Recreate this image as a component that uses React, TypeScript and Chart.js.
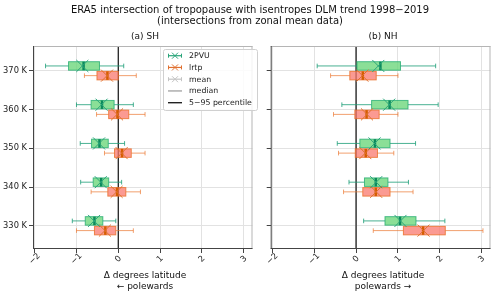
import React, { useEffect, useRef } from 'react';
import { Chart, registerables } from 'chart.js';

Chart.register(...registerables);

// ---------- data ----------
const LEVELS = [370, 360, 350, 340, 330];
const LEVEL_LABELS = ['370 K', '360 K', '350 K', '340 K', '330 K'];
const X_TICKS = [-2, -1, 0, 1, 2, 3];
const X_TICK_LABELS = ['\u22122', '\u22121', '0', '1', '2', '3'];
const SERIES_NAMES = ['2PVU', 'lrtp'];
const LEGEND_LABELS = ['2PVU', 'lrtp', 'mean', 'median', '5\u221295 percentile'];

// (a) SH, 2PVU
const SH_PVU_P5 = [-1.74, -1.0, -0.91, -0.9, -1.1];
const SH_PVU_Q1 = [-1.19, -0.65, -0.64, -0.6, -0.79];
const SH_PVU_MED = [-0.83, -0.39, -0.45, -0.41, -0.57];
const SH_PVU_Q3 = [-0.45, -0.1, -0.24, -0.23, -0.37];
const SH_PVU_P95 = [0.13, 0.36, 0.15, 0.08, -0.06];
const SH_PVU_MEAN = [-0.86, -0.4, -0.46, -0.42, -0.58];
// (a) SH, lrtp
const SH_LRTP_P5 = [-0.81, -0.52, -0.33, -0.65, -1.0];
const SH_LRTP_Q1 = [-0.51, -0.23, -0.09, -0.25, -0.57];
const SH_LRTP_MED = [-0.26, -0.02, 0.09, -0.03, -0.31];
const SH_LRTP_Q3 = [0.0, 0.25, 0.31, 0.18, -0.06];
const SH_LRTP_P95 = [0.43, 0.64, 0.64, 0.53, 0.36];
const SH_LRTP_MEAN = [-0.27, -0.03, 0.08, -0.04, -0.32];
// (b) NH, 2PVU
const NH_PVU_P5 = [-0.93, -0.34, -0.45, -0.17, 0.18];
const NH_PVU_Q1 = [0.02, 0.37, 0.09, 0.2, 0.69];
const NH_PVU_MED = [0.58, 0.8, 0.45, 0.47, 1.05];
const NH_PVU_Q3 = [1.06, 1.24, 0.81, 0.76, 1.43];
const NH_PVU_P95 = [1.9, 1.96, 1.42, 1.25, 2.12];
const NH_PVU_MEAN = [0.53, 0.79, 0.44, 0.48, 1.06];
// (b) NH, lrtp
const NH_LRTP_P5 = [-0.61, -0.54, -0.42, -0.3, 0.41];
const NH_LRTP_Q1 = [-0.15, -0.03, -0.02, 0.16, 1.13];
const NH_LRTP_MED = [0.16, 0.25, 0.23, 0.47, 1.6];
const NH_LRTP_Q3 = [0.48, 0.55, 0.51, 0.81, 2.13];
const NH_LRTP_P95 = [1.0, 1.0, 0.9, 1.36, 3.03];
const NH_LRTP_MEAN = [0.15, 0.26, 0.22, 0.48, 1.61];

const OFFSET_PVU = 1.25;
const OFFSET_LRTP = -1.25;

type Stats = { p5: number[]; q1: number[]; med: number[]; q3: number[]; p95: number[]; mean: number[] };
type Style = { fill: string; edge: string; whisker: string; median: string; mean: string };

const STYLE_PVU: Style = {
  fill: 'rgba(110,215,125,0.8)',
  edge: 'rgba(30,170,110,0.75)',
  whisker: 'rgba(27,158,119,0.8)',
  median: '#0b8a5c',
  mean: '#2aa57a',
};
const STYLE_LRTP: Style = {
  fill: 'rgba(250,120,110,0.75)',
  edge: 'rgba(235,110,40,0.8)',
  whisker: 'rgba(235,120,50,0.7)',
  median: '#d55e00',
  mean: '#e07030',
};

const FONT = '"DejaVu Sans", Verdana, sans-serif';

function drawBoxes(chart: any, stats: Stats, offset: number, st: Style) {
  const ctx = chart.ctx as CanvasRenderingContext2D;
  const xs = chart.scales.x;
  const ys = chart.scales.y;
  const h = 8.5;
  ctx.save();
  LEVELS.forEach((lev, i) => {
    const yc = ys.getPixelForValue(lev + offset);
    const xp5 = xs.getPixelForValue(stats.p5[i]);
    const xq1 = xs.getPixelForValue(stats.q1[i]);
    const xmed = xs.getPixelForValue(stats.med[i]);
    const xq3 = xs.getPixelForValue(stats.q3[i]);
    const xp95 = xs.getPixelForValue(stats.p95[i]);
    // whiskers
    ctx.strokeStyle = st.whisker;
    ctx.lineWidth = 1;
    ctx.beginPath();
    ctx.moveTo(xp5, yc);
    ctx.lineTo(xq1, yc);
    ctx.moveTo(xq3, yc);
    ctx.lineTo(xp95, yc);
    ctx.moveTo(xp5, yc - 2.3);
    ctx.lineTo(xp5, yc + 2.3);
    ctx.moveTo(xp95, yc - 2.3);
    ctx.lineTo(xp95, yc + 2.3);
    ctx.stroke();
    // box
    ctx.fillStyle = st.fill;
    ctx.fillRect(xq1, yc - h / 2, xq3 - xq1, h);
    ctx.strokeStyle = st.edge;
    ctx.lineWidth = 1;
    ctx.strokeRect(xq1, yc - h / 2, xq3 - xq1, h);
    // median
    ctx.strokeStyle = st.median;
    ctx.lineWidth = 2.5;
    ctx.beginPath();
    ctx.moveTo(xmed, yc - h / 2);
    ctx.lineTo(xmed, yc + h / 2);
    ctx.stroke();
  });
  ctx.restore();
}

function makePlugin(sh: boolean, pvu: Stats, lrtp: Stats) {
  return {
    id: 'boxplots' + (sh ? 'L' : 'R'),
    beforeDatasetsDraw(chart: any) {
      const ctx = chart.ctx as CanvasRenderingContext2D;
      const a = chart.chartArea;
      const x0 = chart.scales.x.getPixelForValue(0);
      ctx.save();
      ctx.strokeStyle = sh ? '#222' : '#555';
      ctx.lineWidth = sh ? 1.3 : 1.8;
      ctx.beginPath();
      ctx.moveTo(x0, a.top);
      ctx.lineTo(x0, a.bottom);
      ctx.stroke();
      ctx.restore();
      drawBoxes(chart, pvu, OFFSET_PVU, STYLE_PVU);
      drawBoxes(chart, lrtp, OFFSET_LRTP, STYLE_LRTP);
    },
    afterDraw(chart: any) {
      const ctx = chart.ctx as CanvasRenderingContext2D;
      const a = chart.chartArea;
      const xs = chart.scales.x;
      ctx.save();
      // frame
      ctx.lineWidth = 1;
      ctx.strokeStyle = '#b5b5b5';
      ctx.beginPath();
      ctx.moveTo(a.left, a.top + 0.5);
      ctx.lineTo(a.right, a.top + 0.5);
      ctx.moveTo(a.right - 0.5, a.top);
      ctx.lineTo(a.right - 0.5, a.bottom);
      ctx.stroke();
      ctx.strokeStyle = '#444';
      ctx.beginPath();
      ctx.moveTo(a.left + 0.5, a.top);
      ctx.lineTo(a.left + 0.5, a.bottom);
      ctx.moveTo(a.left, a.bottom - 0.5);
      ctx.lineTo(a.right, a.bottom - 0.5);
      ctx.stroke();
      // x tick labels (rotated)
      ctx.fillStyle = '#222';
      ctx.font = '8.3px ' + FONT;
      ctx.textAlign = 'center';
      ctx.textBaseline = 'middle';
      X_TICKS.forEach((v, i) => {
        const px = xs.getPixelForValue(v);
        ctx.save();
        ctx.translate(px, a.bottom + 10);
        ctx.rotate(-Math.PI / 4);
        ctx.fillText(X_TICK_LABELS[i], 0, 0);
        ctx.restore();
      });
      // legend
      if (sh) {
        const lx = 163;
        const ly = 49;
        const lw = 94;
        const lh = 61;
        ctx.fillStyle = 'rgba(255,255,255,0.85)';
        ctx.strokeStyle = '#d0d0d0';
        ctx.lineWidth = 1;
        ctx.beginPath();
        ctx.roundRect(lx + 0.5, ly + 0.5, lw, lh, 2);
        ctx.fill();
        ctx.stroke();
        const cols = [STYLE_PVU.mean, STYLE_LRTP.mean, '#c4c4c4', '#999999', '#222222'];
        const marks = [true, true, true, false, false];
        ctx.font = '7.8px ' + FONT;
        ctx.textAlign = 'left';
        LEGEND_LABELS.forEach((lab, i) => {
          const y = 55.7 + i * 11.75;
          ctx.strokeStyle = cols[i];
          ctx.lineWidth = i === 4 ? 1.4 : 1.2;
          ctx.beginPath();
          ctx.moveTo(168, y);
          ctx.lineTo(182, y);
          ctx.stroke();
          if (marks[i]) {
            ctx.lineWidth = 1;
            ctx.beginPath();
            ctx.moveTo(172, y - 3);
            ctx.lineTo(178, y + 3);
            ctx.moveTo(172, y + 3);
            ctx.lineTo(178, y - 3);
            ctx.moveTo(168.5, y - 2);
            ctx.lineTo(168.5, y + 2);
            ctx.moveTo(181.5, y - 2);
            ctx.lineTo(181.5, y + 2);
            ctx.stroke();
          }
          ctx.fillStyle = '#222';
          ctx.fillText(lab, 189, y + 0.5);
        });
      }
      ctx.restore();
    },
  };
}

function meanDataset(stats: Stats, offset: number, st: Style, label: string) {
  return {
    label,
    data: LEVELS.map((lev, i) => ({ x: stats.mean[i], y: lev + offset })),
    showLine: false,
    pointStyle: 'crossRot',
    pointRadius: 8.5,
    pointHoverRadius: 8.5,
    borderColor: st.mean,
    backgroundColor: st.mean,
    pointBorderWidth: 1,
    borderWidth: 1,
  };
}

function makeConfig(sh: boolean, pvu: Stats, lrtp: Stats): any {
  return {
    type: 'scatter',
    data: {
      datasets: [
        meanDataset(pvu, OFFSET_PVU, STYLE_PVU, SERIES_NAMES[0]),
        meanDataset(lrtp, OFFSET_LRTP, STYLE_LRTP, SERIES_NAMES[1]),
      ],
    },
    options: {
      animation: false,
      responsive: false,
      maintainAspectRatio: false,
      events: [],
      layout: { padding: { top: 46, right: sh ? 5 : 4, left: 0, bottom: 0 } },
      plugins: { legend: { display: false }, tooltip: { enabled: false }, title: { display: false } },
      scales: {
        x: {
          type: 'linear',
          min: -2.04,
          max: 3.21,
          afterBuildTicks: (s: any) => {
            s.ticks = X_TICKS.map((v) => ({ value: v }));
          },
          afterFit: (s: any) => {
            s.height = 47;
          },
          ticks: { display: false },
          grid: { color: '#e2e2e2', lineWidth: 1, drawTicks: true, tickLength: 4, tickColor: '#444' },
          border: { display: false },
        },
        y: {
          type: 'linear',
          min: 324.0,
          max: 376.4,
          afterBuildTicks: (s: any) => {
            s.ticks = LEVELS.map((v) => ({ value: v }));
          },
          afterFit: (s: any) => {
            s.width = sh ? 33 : 10.7;
          },
          ticks: {
            display: sh,
            padding: 2,
            color: '#222',
            font: { family: FONT, size: 8.3 },
            callback: (v: number) => {
              const idx = LEVELS.indexOf(v);
              return idx >= 0 ? LEVEL_LABELS[idx] : '';
            },
          },
          grid: { color: '#e2e2e2', lineWidth: 1, drawTicks: true, tickLength: 4, tickColor: '#444' },
          border: { display: false },
        },
      },
    },
    plugins: [makePlugin(sh, pvu, lrtp)],
  };
}

const SH_PVU: Stats = { p5: SH_PVU_P5, q1: SH_PVU_Q1, med: SH_PVU_MED, q3: SH_PVU_Q3, p95: SH_PVU_P95, mean: SH_PVU_MEAN };
const SH_LRTP: Stats = { p5: SH_LRTP_P5, q1: SH_LRTP_Q1, med: SH_LRTP_MED, q3: SH_LRTP_Q3, p95: SH_LRTP_P95, mean: SH_LRTP_MEAN };
const NH_PVU: Stats = { p5: NH_PVU_P5, q1: NH_PVU_Q1, med: NH_PVU_MED, q3: NH_PVU_Q3, p95: NH_PVU_P95, mean: NH_PVU_MEAN };
const NH_LRTP: Stats = { p5: NH_LRTP_P5, q1: NH_LRTP_Q1, med: NH_LRTP_MED, q3: NH_LRTP_Q3, p95: NH_LRTP_P95, mean: NH_LRTP_MEAN };

const txt = (top: number, cx: number, size: number): React.CSSProperties => ({
  position: 'absolute',
  top,
  left: cx - 200,
  width: 400,
  textAlign: 'center',
  fontFamily: FONT,
  fontSize: size,
  lineHeight: size + 2 + 'px',
  color: '#111',
  whiteSpace: 'nowrap',
});

export default function App() {
  const leftRef = useRef<HTMLCanvasElement>(null);
  const rightRef = useRef<HTMLCanvasElement>(null);

  useEffect(() => {
    const l = new Chart(leftRef.current as HTMLCanvasElement, makeConfig(true, SH_PVU, SH_LRTP));
    const r = new Chart(rightRef.current as HTMLCanvasElement, makeConfig(false, NH_PVU, NH_LRTP));
    return () => {
      l.destroy();
      r.destroy();
    };
  }, []);

  return (
    <div style={{ position: 'fixed', left: 0, top: 0, width: 500, height: 296, background: '#fff', overflow: 'hidden' }}>
      <canvas ref={leftRef} width={262} height={296} style={{ position: 'absolute', left: 0, top: 0, width: 262, height: 296 }} />
      <canvas ref={rightRef} width={240} height={296} style={{ position: 'absolute', left: 260, top: 0, width: 240, height: 296 }} />
      <div style={txt(4, 250, 10)}>ERA5 intersection of tropopause with isentropes DLM trend 1998{'\u2212'}2019</div>
      <div style={txt(14.7, 250, 10)}>(intersections from zonal mean data)</div>
      <div style={txt(30.5, 145, 9)}>(a) SH</div>
      <div style={txt(30.5, 383, 9)}>(b) NH</div>
      <div style={txt(270, 145, 9)}>{'\u0394'} degrees latitude</div>
      <div style={txt(280.5, 145, 9)}>{'\u2190'} polewards</div>
      <div style={txt(270, 383, 9)}>{'\u0394'} degrees latitude</div>
      <div style={txt(280.5, 383, 9)}>polewards {'\u2192'}</div>
    </div>
  );
}
